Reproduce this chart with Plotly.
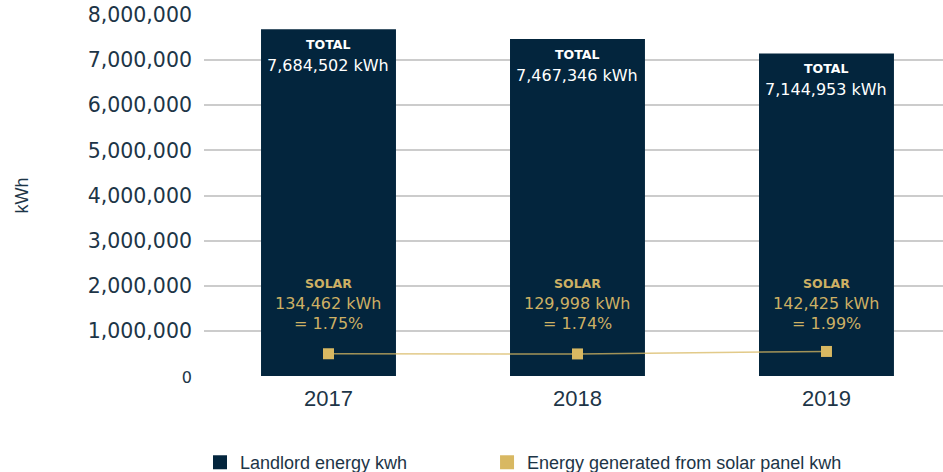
import plotly.graph_objects as go

years = ["2017", "2018", "2019"]
landlord_kwh = [7684502, 7467346, 7144953]
solar_kwh = [134462, 129998, 142425]
solar_pct = [1.75, 1.74, 1.99]
solar_line_kwh = [493000, 489000, 544000]  # as plotted on the chart
y_ticks = [0, 1000000, 2000000, 3000000, 4000000, 5000000, 6000000, 7000000, 8000000]
y_tick_labels = ["<span style='font-size:16px'>0</span>"] + [f"{v:,}" for v in y_ticks[1:]]

NAVY = "#03253d"
GOLD = "#d8b862"
TEXT = "#1d3547"
SOLAR_TXT = "#cdb064"

fig = go.Figure()
fig.add_trace(go.Bar(
    x=years, y=landlord_kwh, marker=dict(color=NAVY, line=dict(width=0)),
    name="Landlord energy kwh", showlegend=False, hoverinfo="y"))
fig.add_trace(go.Scatter(
    x=years, y=solar_line_kwh, mode="lines+markers",
    line=dict(color="rgba(216,184,98,0.75)", width=1.5),
    marker=dict(color=GOLD, size=11, symbol="square"),
    name="Energy generated from solar panel kwh", showlegend=False))
# legend entries
fig.add_trace(go.Scatter(x=[None], y=[None], mode="markers",
                         marker=dict(color=NAVY, size=14, symbol="square"),
                         name="Landlord energy kwh", legend="legend"))
fig.add_trace(go.Scatter(x=[None], y=[None], mode="markers",
                         marker=dict(color=GOLD, size=14, symbol="square"),
                         name="Energy generated from solar panel kwh", legend="legend2"))

ann = []
for i, (tot, s, p) in enumerate(zip(landlord_kwh, solar_kwh, solar_pct)):
    ann.append(dict(x=i, y=tot, xref="x", yref="y", text="<b>TOTAL</b>", showarrow=False,
                    yanchor="middle", yshift=-15,
                    font=dict(family="DejaVu Sans", size=12.5, color="white")))
    ann.append(dict(x=i, y=tot, xref="x", yref="y", text=f"{tot:,} kWh", showarrow=False,
                    yanchor="middle", yshift=-36,
                    font=dict(family="DejaVu Sans", size=16, color="white")))
    ann.append(dict(x=i, y=2.05e6, xref="x", yref="y", text="<b>SOLAR</b>", showarrow=False,
                    yanchor="middle",
                    font=dict(family="DejaVu Sans", size=12.5, color=SOLAR_TXT)))
    ann.append(dict(x=i, y=1.60e6, xref="x", yref="y", text=f"{s:,} kWh", showarrow=False,
                    yanchor="middle",
                    font=dict(family="DejaVu Sans", size=16, color=SOLAR_TXT)))
    ann.append(dict(x=i, y=1.155e6, xref="x", yref="y", text=f"= {p:.2f}%", showarrow=False,
                    yanchor="middle",
                    font=dict(family="DejaVu Sans", size=16, color=SOLAR_TXT)))

legend_common = dict(orientation="h", yanchor="middle", xanchor="left",
                     xref="paper", yref="container", y=0.02, itemwidth=30,
                     bgcolor="rgba(0,0,0,0)",
                     font=dict(family="Liberation Sans", size=18, color=TEXT))

fig.update_layout(
    width=943, height=472, autosize=False,
    margin=dict(l=204, r=0, t=15, b=96),
    paper_bgcolor="white", plot_bgcolor="white",
    bargap=0.458,
    annotations=ann,
    showlegend=True,
    legend=dict(x=-0.0054, **legend_common),
    legend2=dict(x=0.3830, **legend_common),
    xaxis=dict(type="category", range=[-0.5, 2.468], showgrid=False, zeroline=False,
               showline=False, ticks="", ticklabelstandoff=7,
               tickfont=dict(family="Liberation Sans", size=22, color=TEXT)),
    yaxis=dict(range=[0, 8000000], tickvals=y_ticks, ticktext=y_tick_labels,
               showgrid=True, gridcolor="#cccccc", gridwidth=1.5, zeroline=False,
               showline=False, ticks="", ticklabelstandoff=11,
               tickfont=dict(family="DejaVu Sans", size=20.5, color=TEXT),
               title=dict(text="kWh", standoff=54,
                          font=dict(family="Liberation Sans Narrow, Liberation Sans", size=18, color=TEXT))),
)
fig.update_yaxes(automargin=False)
fig.update_xaxes(automargin=False)

fig.write_html("out.html", config={"displayModeBar": False},
               post_script="document.body.style.margin='0';document.body.style.overflow='hidden';")
